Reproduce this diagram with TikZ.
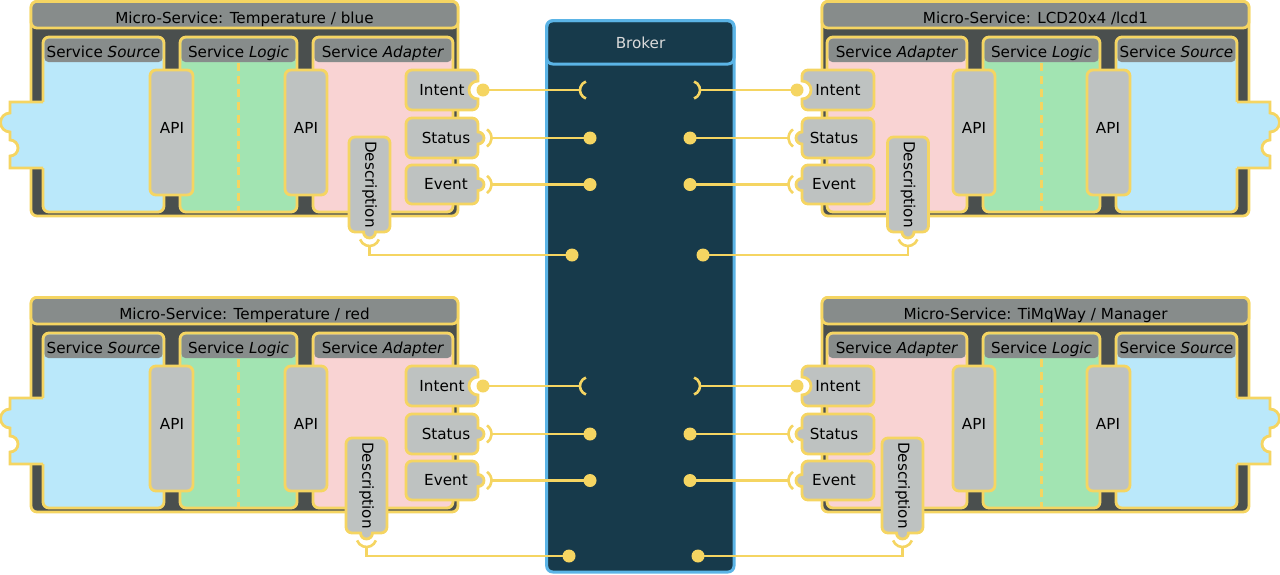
\documentclass[tikz,border=0pt]{standalone}
\usepackage{fontspec}
\setmainfont{DejaVu Sans}
\definecolor{yel}{HTML}{F5D562}
\definecolor{titlegray}{HTML}{878C8B}
\definecolor{bodydark}{HTML}{4A4F4E}
\definecolor{srcblue}{HTML}{BAE8FA}
\definecolor{logicgreen}{HTML}{A2E4B2}
\definecolor{adpink}{HTML}{F9D3D3}
\definecolor{nodegray}{HTML}{BEC2C1}
\definecolor{brokerfill}{HTML}{173A4B}
\definecolor{brokerline}{HTML}{5BB4E6}
\definecolor{brokertext}{HTML}{DADADA}
\definecolor{txt}{HTML}{000000}
\tikzset{
  ybord/.style={draw=yel, line width=2.8pt},
  conn/.style={draw=yel, line width=2.6pt},
  ball/.style={fill=yel},
  lbl/.style={inner sep=0pt, font=\fontsize{15.2}{18}\selectfont, text=txt},
  dashline/.style={draw=yel, line width=2.2pt, dash pattern=on 8pt off 5pt},
}
% panel: x0, x1, colour
\newcommand\mspanel[3]{%
  \fill[#3, rounded corners=6] (#1,37) rectangle (#2,212);
  \fill[titlegray, rounded corners=4] (#1+1.4,38.4) rectangle (#2-1.4,62);
  \path[ybord, rounded corners=6] (#1,37) rectangle (#2,212);
}
% rounded box with a feature on its right edge: x0,x1,y0,y1,feature
\newcommand\rbox[5]{%
  \path[ybord, fill=nodegray] (#1+6,#3) -- (#2-6,#3) arc[start angle=270,end angle=360,radius=6]
    #5 -- (#2,#4-6) arc[start angle=0,end angle=90,radius=6]
    -- (#1+6,#4) arc[start angle=90,end angle=180,radius=6]
    -- (#1,#3+6) arc[start angle=180,end angle=270,radius=6] -- cycle;
}
% block: prefix, title, desc dx, desc dy, desc ball x
\newcommand\msblock[5]{%
  \path[ybord, fill=bodydark, rounded corners=6] (31,1.4) rectangle (458,216);
  \path[ybord, fill=titlegray, rounded corners=6] (31,1.4) rectangle (458,28);
  \node[lbl, anchor=base] (#1title) at (244.5,23.3) {#2};
  \mspanel{43}{164}{srcblue}
  \mspanel{180}{297}{logicgreen}
  \mspanel{313}{453}{adpink}
  \node[lbl, anchor=base] (#1hsrc) at (103.5,57.3) {Service \textit{Source}};
  \node[lbl, anchor=base] (#1hlog) at (238.5,57.3) {Service \textit{Logic}};
  \node[lbl, anchor=base] (#1hada) at (383,57.3) {Service \textit{Adapter}};
  \draw[dashline] (238.5,63) -- (238.5,211);
  % puzzle connector of the source
  \fill[srcblue] (47,102) -- (10,102) -- (10,113) arc[start angle=270,end angle=90,radius=9.5]
    -- (10,140) arc[start angle=-90,end angle=90,radius=8] -- (10,168) -- (47,168) -- cycle;
  \draw[ybord] (43,102) -- (10,102) -- (10,113) arc[start angle=270,end angle=90,radius=9.5]
    -- (10,140) arc[start angle=-90,end angle=90,radius=8] -- (10,168) -- (43,168);
  % APIs
  \path[ybord, fill=nodegray, rounded corners=6] (150,70) rectangle (193,195);
  \node[lbl] (#1apia) at (172,128) {API};
  \path[ybord, fill=nodegray, rounded corners=6] (285,70) rectangle (327,195);
  \node[lbl] (#1apib) at (306,128) {API};
  % Intent / Status / Event
  \rbox{406}{478}{70}{110}{-- (478,81) arc[start angle=270,end angle=90,radius=9]}
  \node[lbl] (#1intent) at (442,90) {Intent};
  \rbox{406}{478}{118}{158}{-- (478,132) arc[start angle=270,end angle=450,radius=6]}
  \node[lbl] (#1status) at (446,138) {Status};
  \rbox{406}{478}{165}{204}{-- (478,178.5) arc[start angle=270,end angle=450,radius=6]}
  \node[lbl] (#1event) at (446,184.5) {Event};
  % Description
  \path[ybord, fill=nodegray] (355+#3,137+#4) -- (384+#3,137+#4) arc[start angle=270,end angle=360,radius=6]
    -- (390+#3,226+#4) arc[start angle=0,end angle=90,radius=6]
    -- (375.5+#3,232+#4) arc[start angle=0,end angle=180,radius=6]
    -- (355+#3,232+#4) arc[start angle=90,end angle=180,radius=6]
    -- (349+#3,143+#4) arc[start angle=180,end angle=270,radius=6] -- cycle;
  \node[lbl, rotate=-90] (#1desc) at (369.5+#3,184.5+#4) {Description};
  % connectors
  \coordinate (#1iBall) at (483,90);
  \coordinate (#1iSock) at (580,90);
  \draw[conn] (#1iBall) -- (#1iSock);
  \draw[conn] (589,90) ++(110:9) arc[start angle=110,end angle=250,radius=9];
  \fill[ball] (#1iBall) circle[radius=6.5];
  \draw[conn] (481,138) ++(-55:10.5) arc[start angle=-55,end angle=55,radius=10.5];
  \coordinate (#1sSock) at (491.5,138);
  \coordinate (#1sBall) at (590,138);
  \draw[conn] (#1sSock) -- (#1sBall);
  \fill[ball] (#1sBall) circle[radius=6.5];
  \draw[conn] (481,184.5) ++(-55:10.5) arc[start angle=-55,end angle=55,radius=10.5];
  \coordinate (#1eSock) at (491.5,184.5);
  \coordinate (#1eBall) at (590,184.5);
  \draw[conn] (#1eSock) -- (#1eBall);
  \fill[ball] (#1eBall) circle[radius=6.5];
  \draw[conn] (369.5+#3,236+#4) ++(20:10) arc[start angle=20,end angle=160,radius=10];
  \coordinate (#1dSock) at (369.5+#3,246+#4);
  \coordinate (#1dBall) at (#5,255+#4);
  \draw[conn] (#1dSock) |- (#1dBall);
  \fill[ball] (#1dBall) circle[radius=6.5];
}
\begin{document}
\begin{tikzpicture}[x=1pt, y=-1pt]
  \useasboundingbox (0,0) rectangle (1280,574);
  % Broker
  \path[draw=brokerline, line width=3pt, fill=brokerfill, rounded corners=6] (546.7,20.7) rectangle (734,572);
  \path[draw=brokerline, line width=3pt, rounded corners=6] (546.7,20.7) rectangle (734,64);
  \node[lbl, text=brokertext] (broker) at (640.5,43) {Broker};
  % four micro-services
  \begin{scope}
    \msblock{tl}{Micro-Service: Temperature / blue}{0}{0}{572}
  \end{scope}
  \begin{scope}[xshift=1280pt, xscale=-1]
    \msblock{tr}{Micro-Service: LCD20x4 /lcd1}{2.5}{0}{577}
  \end{scope}
  \begin{scope}[shift={(0,296)}]
    \msblock{bl}{Micro-Service: Temperature / red}{-3}{5}{569}
  \end{scope}
  \begin{scope}[shift={(0,296)}, xshift=1280pt, xscale=-1]
    \msblock{br}{Micro-Service: TiMqWay / Manager}{8}{5}{582}
  \end{scope}
\end{tikzpicture}
\end{document}
